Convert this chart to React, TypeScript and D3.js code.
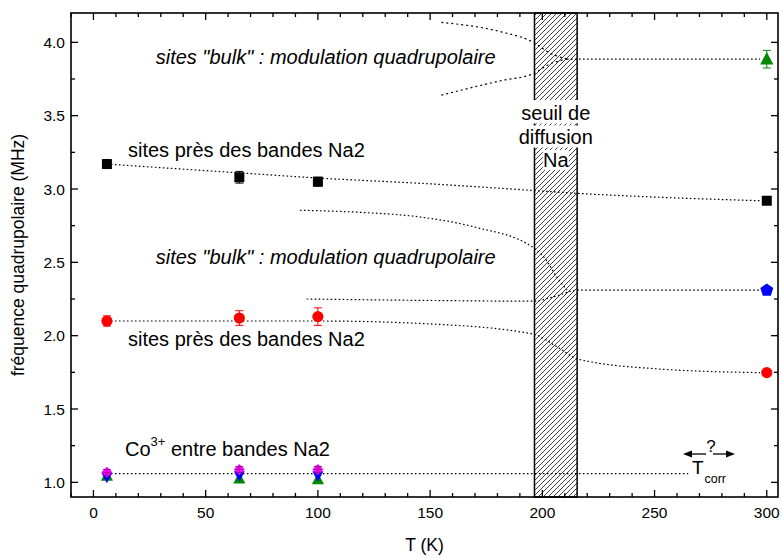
import React from "react";
import * as d3 from "d3";

// ---------- data ----------
const tempsLow = [6, 65, 100];
const nearNa2Upper = [3.17, 3.08, 3.05];
const nearNa2UpperErr = [0.03, 0.04, 0.03];
const nearNa2Lower = [2.1, 2.12, 2.13];
const nearNa2LowerErr = [0.035, 0.05, 0.06];
const coMagenta = [1.068, 1.087, 1.088];
const coMagentaErr = [0.02, 0.02, 0.02];
const coBlue = [1.035, 1.045, 1.045];
const coGreen = [1.045, 1.025, 1.02];

const tempHigh = 300;
const highBlack = 2.92;
const highRed = 1.748;
const highBlue = 2.31;
const highGreen = 3.885;
const highGreenErr = 0.06;

const fitBlack: [number, number][] = [[6, 3.17], [65, 3.11], [100, 3.075], [150, 3.035], [196, 2.99], [216, 2.97], [250, 2.945], [297, 2.92]];
const fitRed: [number, number][] = [[6, 2.1], [100, 2.1], [150, 2.08], [196, 2.01], [206, 1.93], [216, 1.84], [250, 1.775], [297, 1.748]];
const fitBlue: [number, number][] = [[95, 2.25], [150, 2.24], [196, 2.235], [205, 2.265], [216, 2.31], [297, 2.31]];
const fitBulkMid: [number, number][] = [[92, 2.855], [120, 2.84], [145, 2.81], [170, 2.74], [196, 2.6], [202, 2.51], [206, 2.41], [211, 2.31]];
const fitTopUpper: [number, number][] = [[155, 4.136], [182, 4.07], [196, 4.0], [203, 3.93], [211, 3.885]];
const fitTopLower: [number, number][] = [[155, 3.64], [182, 3.74], [196, 3.786], [203, 3.85], [211, 3.885]];
const fitTopFlat: [number, number][] = [[211, 3.885], [297, 3.885]];
const fitCo: [number, number][] = [[6, 1.06], [265, 1.06]];

const bandRange = [196.5, 215.5];
const xTicksMajor = [0, 50, 100, 150, 200, 250, 300];
const yTicksMajor = [1.0, 1.5, 2.0, 2.5, 3.0, 3.5, 4.0];

// ---------- layout ----------
const W = 782, H = 558;
const L = 71, R = 778, T = 13, B = 497;
const x = d3.scaleLinear().domain([-10, 305]).range([L, R]);
const y = d3.scaleLinear().domain([0.9, 4.2]).range([B, T]);
const FONT = "'Liberation Sans', Arial, sans-serif";

const line = d3.line<[number, number]>().x(d => x(d[0])).y(d => y(d[1])).curve(d3.curveMonotoneX);

function Dotted({ pts, dash = "1.6,2.4" }: { pts: [number, number][]; dash?: string }) {
  return <path d={line(pts) || ""} fill="none" stroke="#000" strokeWidth={1.2} strokeDasharray={dash} />;
}

function ErrBar({ cx, v, e, color }: { cx: number; v: number; e: number; color: string }) {
  const px = x(cx), y1 = y(v + e), y2 = y(v - e);
  return (
    <g stroke={color} strokeWidth={1}>
      <line x1={px} x2={px} y1={y1} y2={y2} />
      <line x1={px - 4} x2={px + 4} y1={y1} y2={y1} />
      <line x1={px - 4} x2={px + 4} y1={y2} y2={y2} />
    </g>
  );
}

const triUp = (cx: number, cy: number, s: number) => `M${cx},${cy - s * 0.6}L${cx + s * 0.55},${cy + s * 0.45}L${cx - s * 0.55},${cy + s * 0.45}Z`;
const triDown = (cx: number, cy: number, s: number) => `M${cx},${cy + s * 0.6}L${cx + s * 0.55},${cy - s * 0.45}L${cx - s * 0.55},${cy - s * 0.45}Z`;
const diamond = (cx: number, cy: number, s: number) => `M${cx},${cy - s / 2}L${cx + s / 2},${cy}L${cx},${cy + s / 2}L${cx - s / 2},${cy}Z`;
const pentagon = (cx: number, cy: number, r: number) => {
  const p = d3.range(5).map(i => {
    const a = -Math.PI / 2 + (i * 2 * Math.PI) / 5;
    return [cx + r * Math.cos(a), cy + r * Math.sin(a)];
  });
  return "M" + p.map(q => q.join(",")).join("L") + "Z";
};

export default function App() {
  const xMinor = d3.range(-10, 306, 10).filter(v => !xTicksMajor.includes(v));
  const yMinor = d3.range(1.0, 4.21, 0.25).filter(v => Math.abs((v * 2) % 1) > 0.01);
  const bx0 = x(bandRange[0]), bx1 = x(bandRange[1]);
  const bcx = (bx0 + bx1) / 2;
  return (
    <svg width={W} height={H} style={{ position: "absolute", left: 0, top: 0, background: "#fff" }} fontFamily={FONT}>
      <defs>
        <pattern id="hatch" patternUnits="userSpaceOnUse" width={5} height={5}>
          <path d="M-1,1 L1,-1 M0,5 L5,0 M4,6 L6,4" stroke="#000" strokeWidth={0.75} />
        </pattern>
      </defs>
      <rect width={W} height={H} fill="#fff" />

      {/* hatched band */}
      <rect x={bx0} y={T} width={bx1 - bx0} height={B - T} fill="url(#hatch)" stroke="#000" strokeWidth={1.5} />
      <rect x={bx0 - 8} y={100} width={bx1 - bx0 + 16} height={23.5} fill="#fff" />
      <rect x={bx0 - 14} y={125.5} width={bx1 - bx0 + 28} height={22} fill="#fff" />
      <rect x={bcx - 13} y={150} width={26} height={20} fill="#fff" />
      <g fontSize={20} textAnchor="middle" fill="#000">
        <text x={bcx} y={120}>seuil de</text>
        <text x={bcx} y={143.5}>diffusion</text>
        <text x={bcx} y={167}>Na</text>
      </g>

      {/* dotted guide curves */}
      <Dotted pts={fitBlack} />
      <Dotted pts={fitRed} />
      <Dotted pts={fitBlue} />
      <Dotted pts={fitBulkMid} />
      <Dotted pts={fitTopUpper} dash="2,3" />
      <Dotted pts={fitTopLower} dash="2,3" />
      <Dotted pts={fitTopFlat} />
      <Dotted pts={fitCo} />

      {/* black squares */}
      {tempsLow.map((t, i) => (
        <g key={"b" + i}>
          <ErrBar cx={t} v={nearNa2Upper[i]} e={nearNa2UpperErr[i]} color="#000" />
          <rect x={x(t) - 5} y={y(nearNa2Upper[i]) - 5} width={10} height={10} fill="#000" />
        </g>
      ))}
      <rect x={x(tempHigh) - 5} y={y(highBlack) - 5} width={10} height={10} fill="#000" />

      {/* red circles */}
      {tempsLow.map((t, i) => (
        <g key={"r" + i}>
          <ErrBar cx={t} v={nearNa2Lower[i]} e={nearNa2LowerErr[i]} color="#f00" />
          <circle cx={x(t)} cy={y(nearNa2Lower[i])} r={5.6} fill="#f00" />
        </g>
      ))}
      <circle cx={x(tempHigh)} cy={y(highRed)} r={5.6} fill="#f00" />

      {/* blue pentagon */}
      <path d={pentagon(x(tempHigh), y(highBlue), 6.8)} fill="#00f" />

      {/* green triangle high */}
      <ErrBar cx={tempHigh} v={highGreen} e={highGreenErr} color="#080" />
      <path d={triUp(x(tempHigh), y(highGreen), 12)} fill="#080" />

      {/* Co3+ cluster */}
      {tempsLow.map((t, i) => (
        <g key={"c" + i}>
          <path d={triUp(x(t), y(coGreen[i]), 11)} fill="#080" />
          <path d={triDown(x(t), y(coBlue[i]), 10)} fill="#00f" />
          <path d={diamond(x(t), y(coMagenta[i]), 11)} fill="#f0f" />
          <ErrBar cx={t} v={coMagenta[i]} e={coMagentaErr[i]} color="#a000a0" />
          <line x1={x(t) - 4} x2={x(t) + 4} y1={y(coMagenta[i])} y2={y(coMagenta[i])} stroke="#a000a0" strokeWidth={1} />
        </g>
      ))}

      {/* annotations */}
      <g fontSize={20} fill="#000">
        <text x={155.7} y={64} fontStyle="italic">sites "bulk" : modulation quadrupolaire</text>
        <text x={155.7} y={264} fontStyle="italic">sites "bulk" : modulation quadrupolaire</text>
        <text x={128} y={157}>sites près des bandes Na2</text>
        <text x={128} y={346}>sites près des bandes Na2</text>
        <text x={125} y={455.5}>Co<tspan dy={-10} fontSize={13}>3+</tspan><tspan dy={10}> entre bandes Na2</tspan></text>
      </g>

      {/* T_corr */}
      <g>
        <text x={711} y={452} fontSize={17} textAnchor="middle">?</text>
        <line x1={690} x2={706} y1={454} y2={454} stroke="#000" strokeWidth={1.3} />
        <path d="M683,454 L692,450.5 L692,457.5 Z" fill="#000" />
        <line x1={713} x2={728} y1={454} y2={454} stroke="#000" strokeWidth={1.3} />
        <path d="M735,454 L726,450.5 L726,457.5 Z" fill="#000" />
        <text x={692} y={474} fontSize={19}>T</text>
        <text x={704.5} y={483} fontSize={12.5}>corr</text>
      </g>

      {/* frame & ticks */}
      <rect x={L} y={T} width={R - L} height={B - T} fill="none" stroke="#000" strokeWidth={1.6} />
      <g stroke="#000" strokeWidth={1.3}>
        {xTicksMajor.map(v => (
          <g key={"xm" + v}>
            <line x1={x(v)} x2={x(v)} y1={B} y2={B - 7} />
            <line x1={x(v)} x2={x(v)} y1={T} y2={T + 7} />
          </g>
        ))}
        {xMinor.map(v => (
          <g key={"xn" + v}>
            <line x1={x(v)} x2={x(v)} y1={B} y2={B - 4} />
            <line x1={x(v)} x2={x(v)} y1={T} y2={T + 4} />
          </g>
        ))}
        {yTicksMajor.map(v => (
          <g key={"ym" + v}>
            <line x1={L} x2={L + 7} y1={y(v)} y2={y(v)} />
            <line x1={R} x2={R - 7} y1={y(v)} y2={y(v)} />
          </g>
        ))}
        {yMinor.map(v => (
          <g key={"yn" + v}>
            <line x1={L} x2={L + 4} y1={y(v)} y2={y(v)} />
            <line x1={R} x2={R - 4} y1={y(v)} y2={y(v)} />
          </g>
        ))}
      </g>
      <g fontSize={15.5} fill="#000">
        {xTicksMajor.map(v => (
          <text key={"xl" + v} x={x(v)} y={B + 21} textAnchor="middle">{v}</text>
        ))}
        {yTicksMajor.map(v => (
          <text key={"yl" + v} x={L - 6} y={y(v) + 5.5} textAnchor="end">{d3.format(".1f")(v)}</text>
        ))}
      </g>
      <text x={(L + R) / 2} y={551} fontSize={17.5} textAnchor="middle">T (K)</text>
      <text transform={`translate(24,${(T + B) / 2}) rotate(-90)`} fontSize={17.5} textAnchor="middle">fréquence quadrupolaire (MHz)</text>
    </svg>
  );
}
